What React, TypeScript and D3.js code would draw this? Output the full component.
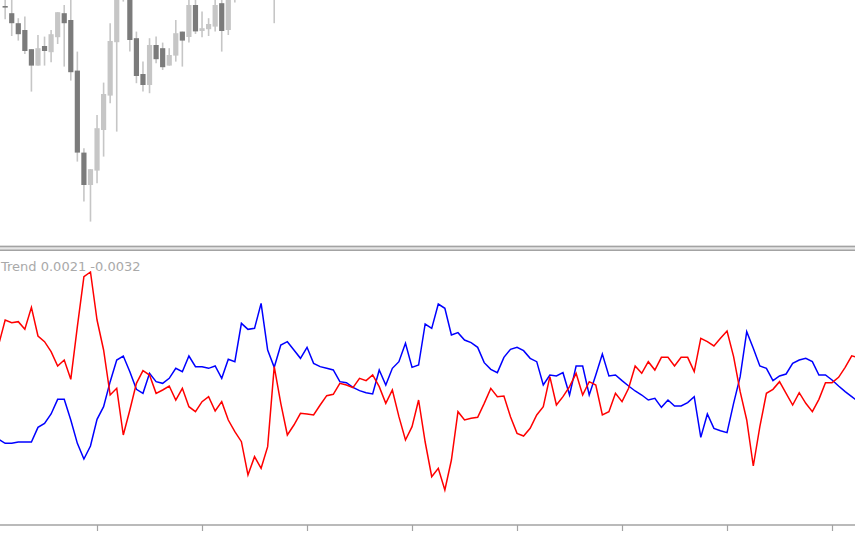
import React from "react";
import * as d3 from "d3";

const W = 855;
const H = 534;

// Indicator "Trend" buffers, in units of 0.0001, one value per bar (bar 0 .. 131)
const trendRed = [
  36.0, 66.0, 62.8, 64.0, 54.8, 81.2, 46.8, 40.0, 28.0, 10.8,
  18.0, -5.2, 58.0, 118.0, 123.6, 66.0, 30.0, -24.0, -16.0, -72.0,
  -42.0, -10.0, 5.2, 0.0, -22.0, -18.0, -13.2, -30.0, -16.0, -38.0,
  -44.0, -32.0, -26.0, -43.2, -32.0, -54.0, -68.0, -80.0, -120.0, -98.0,
  -112.0, -86.0, 10.0, -34.0, -72.0, -60.0, -46.0, -46.8, -48.0, -36.0,
  -24.8, -23.2, -10.0, -12.0, -15.2, -4.0, -6.8, 0.0, -14.0, -34.0,
  -18.0, -50.0, -78.0, -62.0, -30.0, -80.4, -122.0, -112.0, -138.0, -102.0,
  -44.0, -54.0, -52.0, -50.8, -34.0, -16.0, -26.0, -25.2, -50.0, -70.0,
  -73.2, -64.0, -48.0, -38.0, -2.0, -36.0, -26.0, -14.0, 2.0, -24.0,
  -8.0, -12.0, -48.0, -44.0, -22.0, -32.0, -16.0, 10.8, 2.0, 16.0,
  6.0, 21.2, 21.2, 10.8, 21.2, 21.2, 4.0, 44.0, 40.0, 34.8,
  44.0, 52.8, 22.0, -20.0, -54.0, -109.2, -62.0, -22.0, -17.2, -8.0,
  -22.0, -36.0, -21.2, -34.0, -44.0, -29.2, -9.2, -9.2, -2.8, 9.2,
  23.0, 21.0,
];

const trendBlue = [
  -77.2, -82.0, -82.0, -80.4, -80.4, -80.4, -62.8, -58.0, -46.8, -29.2,
  -29.2, -54.0, -82.0, -100.8, -85.2, -53.2, -38.0, -8.0, 18.0, 22.8,
  4.0, -17.2, -22.0, 2.0, -8.0, -10.0, -4.0, 8.0, 4.0, 22.8,
  10.0, 10.0, 8.0, 10.8, -4.0, 18.8, 16.0, 62.0, 54.8, 56.0,
  86.0, 30.0, 9.2, 36.0, 40.0, 30.0, 20.0, 33.2, 14.0, 10.0,
  8.0, 6.0, -8.0, -9.2, -14.8, -18.8, -21.2, -22.8, 6.0, -12.0,
  8.0, 16.0, 38.0, 9.2, 12.0, 61.2, 56.0, 85.2, 80.0, 48.0,
  50.8, 42.0, 38.8, 33.2, 14.8, 6.8, 2.8, 21.2, 30.8, 33.2,
  29.2, 20.0, 16.0, -12.0, 0.0, -1.2, 2.8, -24.0, 10.8, 10.8,
  -24.0, 0.0, 25.2, -1.2, 0.0, -6.8, -13.2, -19.2, -24.0, -30.0,
  -28.0, -38.8, -30.0, -37.2, -37.2, -33.2, -26.0, -74.8, -46.8, -64.0,
  -66.8, -69.2, -34.0, -2.0, 52.0, 32.0, 10.8, 8.0, -6.8, -1.2,
  1.2, 14.0, 18.0, 20.0, 16.0, 0.0, 0.0, -6.0, -13.2, -20.0,
  -26.0, -32.0,
];

// Candles visible in the price pane (bar index, open, high, low, close)
const candleBar = [
  1, 2, 3, 4, 5, 6, 7, 8, 9, 10, 11, 12, 13, 14, 15, 16, 17, 18, 19, 20,
  21, 22, 23, 24, 25, 26, 27, 28, 29, 30, 31, 32, 33, 34, 35, 36, 42,
];
const candleOpen = [
  1.3097, 1.30934, 1.30884, 1.3085, 1.30754, 1.30672, 1.3077, 1.30739, 1.30814, 1.30934,
  1.309, 1.30647, 1.30237, 1.30075, 1.30147, 1.3035, 1.30522, 1.30789, 1.31015, 1.31125,
  1.30809, 1.3063, 1.30575, 1.30775, 1.30759, 1.30672, 1.30722, 1.30842, 1.30815, 1.30975,
  1.30845, 1.30854, 1.30867, 1.30984, 1.3085, 1.3105, 1.3105,
];
const candleHigh = [
  1.31015, 1.31015, 1.30909, 1.30917, 1.30754, 1.30825, 1.30817, 1.3085, 1.30939, 1.30975,
  1.31025, 1.30742, 1.30259, 1.30154, 1.30425, 1.30587, 1.30884, 1.311, 1.312, 1.31175,
  1.30842, 1.30692, 1.30809, 1.30817, 1.30787, 1.30759, 1.309, 1.30842, 1.31015, 1.31015,
  1.30942, 1.30909, 1.31015, 1.31015, 1.31075, 1.3125, 1.3125,
];
const candleLow = [
  1.30904, 1.3082, 1.30797, 1.3073, 1.30542, 1.30672, 1.30672, 1.30689, 1.3078, 1.30667,
  1.30597, 1.30192, 1.29992, 1.29892, 1.30084, 1.30217, 1.30484, 1.30342, 1.30992, 1.30742,
  1.30584, 1.30542, 1.30534, 1.30684, 1.3065, 1.30672, 1.30692, 1.30667, 1.30787, 1.3083,
  1.30814, 1.3082, 1.30842, 1.30742, 1.30825, 1.30987, 1.30884,
];
const candleClose = [
  1.30962, 1.30884, 1.30829, 1.30745, 1.30672, 1.30759, 1.30745, 1.30829, 1.30939, 1.30884,
  1.30639, 1.30237, 1.30075, 1.30154, 1.30359, 1.3053, 1.30795, 1.3105, 1.3115, 1.308,
  1.3062, 1.30575, 1.30775, 1.30704, 1.30664, 1.30725, 1.30834, 1.30797, 1.30975, 1.30843,
  1.30859, 1.3088, 1.30975, 1.30845, 1.31025, 1.312, 1.312,
];

// Bars that carry a time-scale tick mark
const timeTickBars = [15, 31, 47, 63, 79, 95, 111, 127];

const indicatorName = "Trend";

export default function App() {
  const x = d3.scaleLinear().domain([0, 131]).range([-1.4, -1.4 + 131 * 6.5625]);
  const yPrice = d3.scaleLinear().domain([1.31, 1.29775]).range([0, 245]);
  const yInd = d3
    .scaleLinear()
    .domain([-100, 100])
    .range([375 + 100 / 1.2, 375 - 100 / 1.2]);

  const line = d3
    .line<number>()
    .x((_, i) => x(i))
    .y((v) => yInd(v));

  const bodyW = 5.2;
  const bullColor = "#c6c6c6";
  const bearColor = "#7b7b7b";
  const wickColor = "#c6c6c6";

  const lastRed = trendRed[trendRed.length - 1] / 10000;
  const lastBlue = trendBlue[trendBlue.length - 1] / 10000;
  const label = `${indicatorName} ${lastRed.toFixed(4)} ${lastBlue.toFixed(4)}`;

  return (
    <svg
      width={W}
      height={H}
      style={{ position: "absolute", left: 0, top: 0, background: "#ffffff" }}
    >
      <defs>
        <clipPath id="pricePane">
          <rect x={0} y={0} width={W} height={245} />
        </clipPath>
        <clipPath id="indPane">
          <rect x={0} y={252} width={W} height={272} />
        </clipPath>
      </defs>
      <rect x={0} y={0} width={W} height={H} fill="#ffffff" />

      {/* price pane candles */}
      <g clipPath="url(#pricePane)">
        {candleBar.map((b, i) => {
          const o = candleOpen[i];
          const c = candleClose[i];
          const bull = c >= o;
          const cx = x(b);
          const top = yPrice(Math.max(o, c));
          const bot = yPrice(Math.min(o, c));
          return (
            <g key={b}>
              <line
                x1={cx}
                x2={cx}
                y1={yPrice(candleHigh[i])}
                y2={yPrice(candleLow[i])}
                stroke={wickColor}
                strokeWidth={1.6}
              />
              <rect
                x={cx - bodyW / 2}
                y={top}
                width={bodyW}
                height={Math.max(1.6, bot - top)}
                fill={bull ? bullColor : bearColor}
              />
            </g>
          );
        })}
      </g>

      {/* pane separator */}
      <rect x={0} y={245.5} width={W} height={5.5} fill="#e6e6e6" />
      <line x1={0} x2={W} y1={246.5} y2={246.5} stroke="#a3a3a3" strokeWidth={1.5} />
      <line x1={0} x2={W} y1={250.3} y2={250.3} stroke="#a3a3a3" strokeWidth={1.5} />

      {/* indicator label */}
      <text
        x={1}
        y={271}
        fontFamily="'DejaVu Sans', Verdana, sans-serif"
        fontSize={13}
        fill="#a9a9a9"
      >
        {label}
      </text>

      {/* indicator lines */}
      <g clipPath="url(#indPane)">
        <path d={line(trendBlue) || ""} fill="none" stroke="#0000ff" strokeWidth={1.5} />
        <path d={line(trendRed) || ""} fill="none" stroke="#ff0000" strokeWidth={1.5} />
      </g>

      {/* time axis */}
      <line x1={0} x2={W} y1={525} y2={525} stroke="#a3a3a3" strokeWidth={1.5} />
      {timeTickBars.map((b) => (
        <line
          key={b}
          x1={Math.round(x(b)) + 0.5}
          x2={Math.round(x(b)) + 0.5}
          y1={525}
          y2={531}
          stroke="#a3a3a3"
          strokeWidth={1.2}
        />
      ))}
    </svg>
  );
}
